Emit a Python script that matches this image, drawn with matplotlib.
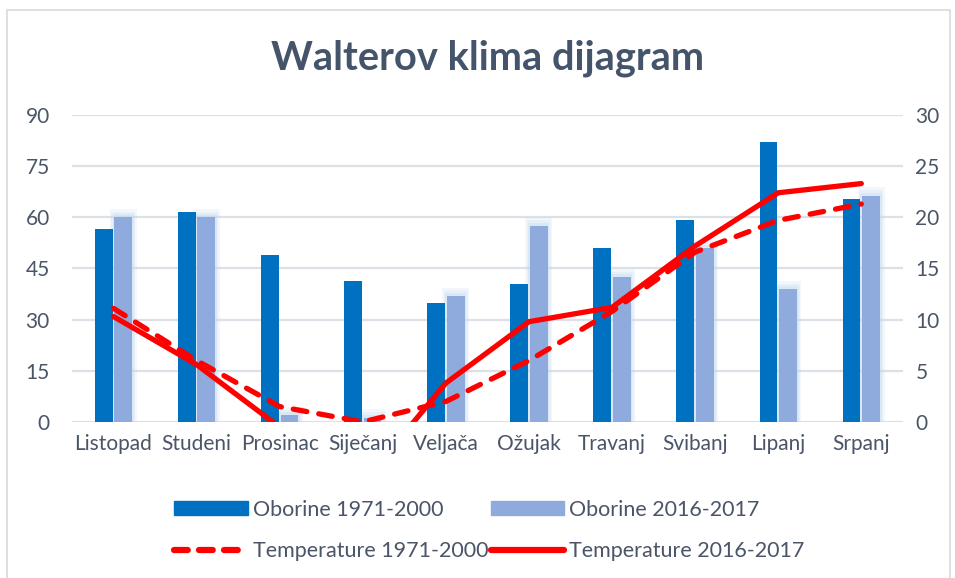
import matplotlib.pyplot as plt
import numpy as np
from matplotlib.patches import Rectangle
from matplotlib.lines import Line2D

# data
months = ['Listopad', 'Studeni', 'Prosinac', 'Siječanj', 'Veljača',
          'Ožujak', 'Travanj', 'Svibanj', 'Lipanj', 'Srpanj']
oborine_1971 = [56.6, 61.6, 48.9, 41.3, 34.9, 40.5, 51.0, 59.2, 82.1, 65.4]
oborine_2016 = [60.0, 60.0, 1.9, 1.3, 37.0, 57.6, 42.4, 51.0, 38.9, 66.4]
temp_1971 = [11.1, 6.0, 1.5, 0.0, 2.0, 6.0, 10.8, 16.6, 19.7, 21.3]
temp_2016 = [10.3, 5.6, -0.5, -6.0, 3.8, 9.8, 11.2, 17.2, 22.4, 23.3]

dark = '#0070C0'
light = '#8FAADC'
red = '#FF0000'
txt = '#4A5568'
grid_c = '#DCE1E8'

plt.rcParams['font.family'] = ['Lato', 'DejaVu Sans']

fig = plt.figure(figsize=(9.55, 5.78), dpi=100)
fig.patches.append(Rectangle((7 / 955, -0.02), 943 / 955, 1.02 - 10 / 578,
                             transform=fig.transFigure, fill=False,
                             edgecolor='#D9D9D9', linewidth=1.2))

ax = fig.add_axes([0.0754, 0.270, 0.870, 0.531])
x = np.arange(len(months))
w = 0.215

# soft glow behind the light bars
for k, a in [(0.11, 0.18), (0.075, 0.22), (0.04, 0.30)]:
    ax.bar(x + w / 2 + 0.01, np.array(oborine_2016) + k * 22, width=w + k,
           color='#BDD7EE', alpha=a, linewidth=0, zorder=1)

ax.bar(x - w / 2 - 0.01, oborine_1971, width=w, color=dark, zorder=2,
       label='Oborine 1971-2000')
ax.bar(x + w / 2 + 0.01, oborine_2016, width=w, color=light, zorder=2,
       label='Oborine 2016-2017')

ax.set_ylim(0, 90)
ax.set_yticks(range(0, 91, 15))
ax.set_xlim(-0.5, len(months) - 0.5)
ax.set_xticks(x)
ax.set_xticklabels(months)
ax.grid(axis='y', color=grid_c, linewidth=1.6, zorder=0)
ax.set_axisbelow(True)
for s in ax.spines.values():
    s.set_visible(False)
ax.tick_params(axis='both', length=0, labelsize=15, labelcolor=txt)
ax.tick_params(axis='y', pad=16)
ax.tick_params(axis='x', pad=9)

ax2 = ax.twinx()
ax2.plot(x, temp_1971, color=red, linewidth=3.8, linestyle=(0, (2.6, 2.3)),
         dash_capstyle='round', zorder=3)
ax2.plot(x, temp_2016, color=red, linewidth=3.8, solid_capstyle='round',
         solid_joinstyle='miter', zorder=3)
ax2.set_ylim(0, 30)
ax2.set_yticks(range(0, 31, 5))
for s in ax2.spines.values():
    s.set_visible(False)
ax2.tick_params(axis='y', length=0, labelsize=15, labelcolor=txt, pad=9)

fig.text(0.5105, 0.90, 'Walterov klima dijagram', ha='center', va='center',
         fontsize=28.7, fontweight='bold', color='#44546A')

handles = [
    Rectangle((0, 0), 1, 1, color=dark),
    Line2D([], [], color=red, linewidth=4.5, linestyle=(0, (2.2, 1.8)),
           dash_capstyle='round'),
    Rectangle((0, 0), 1, 1, color=light),
    Line2D([], [], color=red, linewidth=4.5, solid_capstyle='round'),
]
labels = ['Oborine 1971-2000', 'Temperature 1971-2000',
          'Oborine 2016-2017', 'Temperature 2016-2017']
leg = fig.legend(handles, labels, ncol=2, loc='center',
                 bbox_to_anchor=(0.5126, 0.082), frameon=False, fontsize=15.5,
                 handlelength=3.4, handleheight=0.65, handletextpad=0.25,
                 columnspacing=0.1, labelspacing=1.0)
for t in leg.get_texts():
    t.set_color(txt)

fig.savefig('out.png', dpi=100)
